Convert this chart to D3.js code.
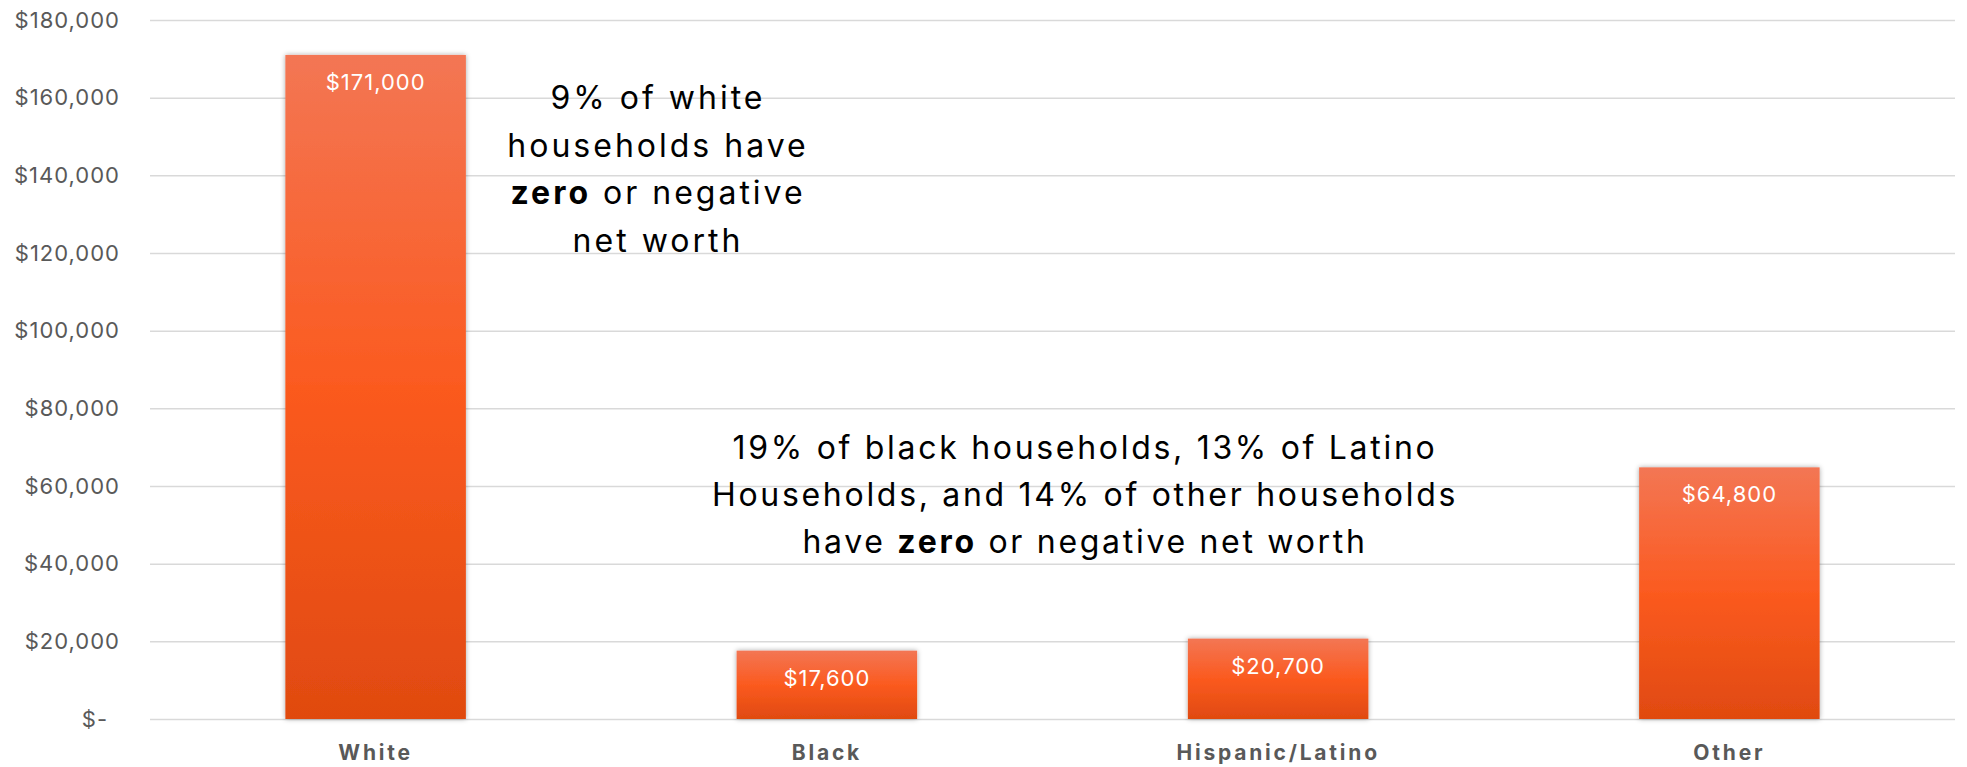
<!DOCTYPE html>
<html>
<head>
<meta charset="utf-8">
<script src="https://cdn.jsdelivr.net/npm/d3@7"></script>
<style>
  body { margin: 0; background: #fff; }
  svg { display: block; }
</style>
</head>
<body>
<div id="chart-area"></div>
<script>
// data
const categories = ["White", "Black", "Hispanic/Latino", "Other"]
const netWorth = [171000, 17600, 20700, 64800]
const barLabels = ["$171,000", "$17,600", "$20,700", "$64,800"]
const yTicks = [0, 20000, 40000, 60000, 80000, 100000, 120000, 140000, 160000, 180000]

// annotation lines, each a list of [text, bold]
const noteWhite = [
    [["9% of white", false]],
    [["households have", false]],
    [["zero", true], [" or negative", false]],
    [["net worth", false]]
]
const noteOthers = [
    [["19% of black households, 13% of Latino", false]],
    [["Households, and 14% of other households", false]],
    [["have ", false], ["zero", true], [" or negative net worth", false]]
]

function drawChart() {
    const dataset = categories.map((c, i) => ({ category: c, value: netWorth[i], label: barLabels[i] }))

    const svgWidth = 1967
    const svgHeight = 767
    const margin = { left: 150, right: 12, top: 20, bottom: 48 }
    const chartWidth = svgWidth - margin.left - margin.right
    const chartHeight = svgHeight - margin.top - margin.bottom

    const xScale = d3.scaleBand()
        .domain(categories)
        .range([0, chartWidth])
        .paddingInner(0.6)
        .paddingOuter(0.3)

    const yScale = d3.scaleLinear()
        .domain([0, 180000])
        .range([chartHeight, 0])

    const svg = d3.select("#chart-area")
        .append("svg")
        .attr("width", svgWidth)
        .attr("height", svgHeight)

    const defs = svg.append("defs")
    const grad = defs.append("linearGradient")
        .attr("id", "barGrad")
        .attr("x1", 0).attr("y1", 0)
        .attr("x2", 0).attr("y2", 1)
    grad.append("stop").attr("offset", "0%").attr("stop-color", "#f37654")
    grad.append("stop").attr("offset", "50%").attr("stop-color", "#fb5a1f")
    grad.append("stop").attr("offset", "100%").attr("stop-color", "#e04a10")

    const shadow = defs.append("filter")
        .attr("id", "shadow")
        .attr("x", "-10%").attr("y", "-10%")
        .attr("width", "120%").attr("height", "120%")
    shadow.append("feDropShadow")
        .attr("dx", 0).attr("dy", 0)
        .attr("stdDeviation", 2.5)
        .attr("flood-color", "#000")
        .attr("flood-opacity", 0.35)

    const chart = svg.append("g")
        .attr("transform", `translate(${margin.left},${margin.top})`)

    // y axis with gridlines
    const yAxis = chart.append("g")
        .attr("class", "y-axis")
        .call(d3.axisLeft(yScale)
            .tickValues(yTicks)
            .tickSize(-chartWidth)
            .tickPadding(30)
            .tickFormat(d => d === 0 ? "$-" : d3.format("$,")(d)))
    yAxis.select(".domain").remove()
    yAxis.selectAll(".tick line")
        .attr("stroke", "#d9d9d9")
        .attr("stroke-width", 1.5)
    yAxis.selectAll(".tick text")
        .attr("fill", "#595959")
        .style("font-family", "Inter, 'Open Sans', sans-serif")
        .style("font-size", "22px")
        .style("letter-spacing", "1px")
    yAxis.selectAll(".tick text")
        .filter(d => d === 0)
        .attr("dx", -12)

    // bars
    chart.selectAll(".bar")
        .data(dataset)
        .join("rect")
        .attr("class", "bar")
        .attr("x", d => xScale(d.category))
        .attr("y", d => yScale(d.value))
        .attr("width", xScale.bandwidth())
        .attr("height", d => chartHeight - yScale(d.value))
        .attr("fill", "url(#barGrad)")
        .attr("filter", "url(#shadow)")

    chart.selectAll(".bar-label")
        .data(dataset)
        .join("text")
        .attr("class", "bar-label")
        .attr("x", d => xScale(d.category) + xScale.bandwidth() / 2)
        .attr("y", d => yScale(d.value) + 35)
        .attr("text-anchor", "middle")
        .attr("fill", "#fff")
        .style("font-family", "Inter, 'Open Sans', sans-serif")
        .style("font-size", "22px")
        .style("letter-spacing", "1px")
        .text(d => d.label)

    // x axis
    const xAxis = chart.append("g")
        .attr("class", "x-axis")
        .attr("transform", `translate(0,${chartHeight})`)
        .call(d3.axisBottom(xScale).tickSize(0).tickPadding(26))
    xAxis.select(".domain").remove()
    xAxis.selectAll(".tick text")
        .attr("fill", "#595959")
        .style("font-family", "Inter, 'Open Sans', sans-serif")
        .style("font-size", "21px")
        .style("font-weight", "bold")
        .style("letter-spacing", "2.8px")

    // annotations
    function addNote(lines, cx, y0, step, size, spacing) {
        const t = svg.append("text")
            .attr("text-anchor", "middle")
            .attr("fill", "#000")
            .style("font-family", "Inter, 'Open Sans', sans-serif")
            .style("font-size", size + "px")
            .style("letter-spacing", spacing + "px")
        lines.forEach((parts, i) => {
            const line = t.append("tspan")
                .attr("x", cx)
                .attr("y", y0 + i * step)
            parts.forEach(p => {
                line.append("tspan")
                    .style("font-weight", p[1] ? "bold" : "normal")
                    .text(p[0])
            })
        })
    }
    addNote(noteWhite, 658, 109, 47.5, 32, 3)
    addNote(noteOthers, 1085, 459, 47, 32, 2.7)
}

drawChart()
</script>
</body>
</html>
